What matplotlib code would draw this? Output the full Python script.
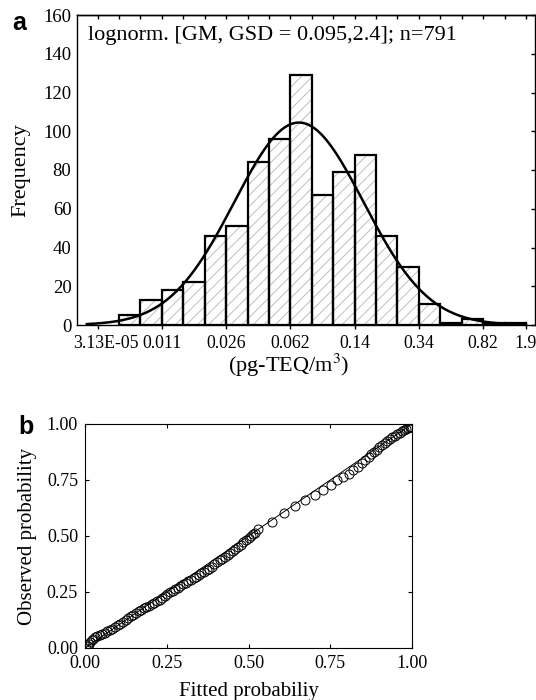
import numpy as np
import matplotlib
matplotlib.use("Agg")
import matplotlib.pyplot as plt
from matplotlib.transforms import ScaledTranslation

plt.rcParams['font.family'] = ['Liberation Serif', 'DejaVu Serif']
plt.rcParams['mathtext.fontset'] = 'stix'
plt.rcParams['hatch.linewidth'] = 0.6

# --- panel a: histogram of concentrations (log classes) ---
counts = [5, 13, 18, 22, 46, 51, 84, 96, 129, 67, 79, 88, 46, 30, 11, 1, 3, 1, 1]
tick_pos = [-1, 2, 5, 8, 11, 14, 17, 19]
tick_labels = ["3.13E-05", "0.011", "0.026", "0.062", "0.14", "0.34", "0.82", "1.9"]

# fitted lognormal, expressed in class units
fit_center = 8.4
fit_sigma = 3.02
fit_n = 791
fit_range = (-1.5, 19.0)

# --- panel b: P-P plot ---
fitted_p = [0.004, 0.008, 0.012, 0.016, 0.020, 0.025, 0.031, 0.038, 0.045, 0.052,
            0.060, 0.068, 0.076, 0.084, 0.092, 0.100, 0.108, 0.116, 0.124, 0.132,
            0.140, 0.148, 0.156, 0.164, 0.172, 0.180, 0.188, 0.196, 0.204, 0.212,
            0.220, 0.228, 0.236, 0.244, 0.252, 0.260, 0.268, 0.276, 0.284, 0.292,
            0.300, 0.308, 0.316, 0.324, 0.332, 0.340, 0.348, 0.356, 0.364, 0.372,
            0.380, 0.388, 0.396, 0.404, 0.412, 0.420, 0.428, 0.436, 0.444, 0.452,
            0.460, 0.468, 0.476, 0.484, 0.492, 0.500, 0.508, 0.514, 0.520,
            0.530, 0.572, 0.610, 0.643, 0.674, 0.703, 0.729, 0.752, 0.772, 0.790,
            0.806, 0.821, 0.834, 0.846, 0.857, 0.867,
            0.876, 0.884, 0.892, 0.900, 0.908, 0.916, 0.924, 0.932, 0.940, 0.948,
            0.955, 0.962, 0.969, 0.976, 0.982, 0.988, 0.993, 0.997]
observed_p = [0.002, 0.010, 0.020, 0.028, 0.035, 0.042, 0.048, 0.054, 0.059, 0.064,
              0.069, 0.074, 0.080, 0.087, 0.094, 0.101, 0.109, 0.117, 0.125, 0.133,
              0.141, 0.149, 0.157, 0.164, 0.171, 0.177, 0.183, 0.189, 0.195, 0.201,
              0.208, 0.216, 0.224, 0.232, 0.240, 0.248, 0.256, 0.263, 0.270, 0.277,
              0.284, 0.291, 0.298, 0.305, 0.312, 0.319, 0.326, 0.333, 0.339, 0.346,
              0.354, 0.363, 0.373, 0.383, 0.391, 0.399, 0.407, 0.415, 0.423, 0.432,
              0.441, 0.451, 0.461, 0.471, 0.481, 0.491, 0.500, 0.507, 0.515,
              0.533, 0.564, 0.602, 0.632, 0.659, 0.684, 0.707, 0.729, 0.748, 0.764,
              0.779, 0.795, 0.810, 0.826, 0.840, 0.853,
              0.865, 0.876, 0.886, 0.896, 0.906, 0.915, 0.924, 0.932, 0.940, 0.948,
              0.955, 0.962, 0.968, 0.974, 0.979, 0.983, 0.986, 0.988]
pp_ticks = [0.0, 0.25, 0.5, 0.75, 1.0]

fig = plt.figure(figsize=(5.36, 7.0), dpi=100)

### Panel a
ax = fig.add_axes([77/536, 1 - 325/700, 458/536, 310/700])
pos = np.arange(len(counts))
# hatch first (grey), then black outlines on top
ax.bar(pos, counts, width=1, align='edge', color='white', edgecolor='#b5b5b5',
       hatch='///', linewidth=0)
ax.bar(pos, counts, width=1, align='edge', fill=False, edgecolor='black', linewidth=1.6)

xc = np.linspace(fit_range[0], fit_range[1], 300)
yc = fit_n / (fit_sigma * np.sqrt(2 * np.pi)) * np.exp(-0.5 * ((xc - fit_center) / fit_sigma) ** 2)
ax.plot(xc, yc, color='black', linewidth=1.8)

ax.set_xlim(-1.96, 19.42)
ax.set_ylim(0, 160)
ax.set_xticks(tick_pos)
ax.set_xticklabels(tick_labels)
ax.set_yticks(np.arange(0, 161, 20))
ax.tick_params(axis='x', direction='out', length=3, width=1, pad=4, labelsize=12.8)
ax.tick_params(axis='y', left=False, right=True, direction='in', length=3, width=1,
               pad=4, labelsize=13.5)
for s in ax.spines.values():
    s.set_linewidth(1.0)

# first label sits a little right of its tick in the original
first = ax.get_xticklabels()[0]
first.set_transform(first.get_transform() + ScaledTranslation(0.08, 0, fig.dpi_scale_trans))

# top ticks at every class edge
sec = ax.secondary_xaxis('top')
sec.set_xticks(np.arange(-1, 20))
sec.tick_params(direction='in', length=3, width=1, labeltop=False)
sec.spines['top'].set_linewidth(1.0)

ax.set_ylabel("Frequency", fontsize=16, labelpad=9)
ax.set_xlabel(r"(pg-TEQ/m$^3$)", fontsize=16)
ax.xaxis.set_label_coords(0.463, -0.088)
ax.text(0.025, 0.965, "lognorm. [GM, GSD = 0.095,2.4]; n=791", transform=ax.transAxes,
        fontsize=16, ha='left', va='top')

### Panel b
bx = fig.add_axes([85/536, 1 - 648/700, 327/536, 224/700])
bx.plot([0, 1], [0, 1], color='black', linewidth=0.7)
bx.plot(fitted_p, observed_p, 'o', markersize=6.5, markerfacecolor='none',
        markeredgecolor='black', markeredgewidth=0.7)
bx.set_xlim(0, 1)
bx.set_ylim(0, 1)
bx.set_xticks(pp_ticks)
bx.set_yticks(pp_ticks)
bx.set_xticklabels(["%.2f" % t for t in pp_ticks])
bx.set_yticklabels(["%.2f" % t for t in pp_ticks])
bx.tick_params(direction='in', length=3, width=0.8, top=True, right=True,
               labelsize=13, pad=5)
for s in bx.spines.values():
    s.set_linewidth(0.8)
bx.set_xlabel("Fitted probabiliy", fontsize=15, labelpad=7)
bx.set_ylabel("Observed probability", fontsize=15, labelpad=7)

# panel letters
fig.text(12/536, 1 - 30/700, "a", fontsize=18, fontweight='bold', family='Liberation Sans')
fig.text(18/536, 1 - 434/700, "b", fontsize=18, fontweight='bold', family='Liberation Sans')

fig.savefig("out.png", dpi=100)
